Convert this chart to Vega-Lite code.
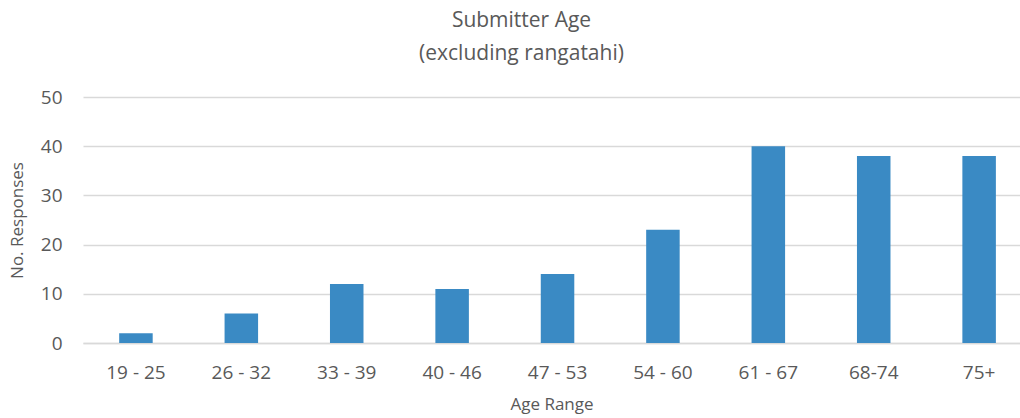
{
  "$schema": "https://vega.github.io/schema/vega-lite/v6.json",
  "autosize": {"type": "none"},
  "padding": {"left": 83, "top": 97, "right": 0, "bottom": 75},
  "width": 937,
  "height": 246,
  "background": "white",
  "config": {
    "font": "Open Sans",
    "view": {"stroke": null}
  },
  "title": {
    "text": "Submitter Age",
    "subtitle": "(excluding rangatahi)",
    "anchor": "middle",
    "frame": "group",
    "dx": -30,
    "offset": 24,
    "font": "Open Sans",
    "fontSize": 21,
    "fontWeight": "normal",
    "color": "#595959",
    "subtitleFont": "Open Sans",
    "subtitleFontSize": 21,
    "subtitleColor": "#595959",
    "subtitlePadding": 12
  },
  "data": {
    "values": [
      {"range": "19 - 25", "count": 2},
      {"range": "26 - 32", "count": 6},
      {"range": "33 - 39", "count": 12},
      {"range": "40 - 46", "count": 11},
      {"range": "47 - 53", "count": 14},
      {"range": "54 - 60", "count": 23},
      {"range": "61 - 67", "count": 40},
      {"range": "68-74", "count": 38},
      {"range": "75+", "count": 38}
    ]
  },
  "mark": {"type": "bar", "color": "#3a8ac4"},
  "encoding": {
    "x": {
      "field": "range",
      "type": "nominal",
      "sort": null,
      "scale": {"paddingInner": 0.682, "paddingOuter": 0.286, "align": 0.6},
      "axis": {
        "title": "Age Range",
        "titleFont": "Open Sans",
        "titleFontSize": 17,
        "titleFontWeight": "normal",
        "titleColor": "#595959",
        "titlePadding": 14,
        "labelAngle": 0,
        "labelFontSize": 19,
        "labelColor": "#595959",
        "labelPadding": 20,
        "ticks": false,
        "domainColor": "#d9d9d9",
        "domainWidth": 1.5
      }
    },
    "y": {
      "field": "count",
      "type": "quantitative",
      "scale": {"domain": [0, 50]},
      "axis": {
        "title": "No. Responses",
        "titleFont": "Open Sans",
        "titleFontSize": 17,
        "titleFontWeight": "normal",
        "titleColor": "#595959",
        "titlePadding": 14,
        "values": [0, 10, 20, 30, 40, 50],
        "labelFontSize": 19,
        "labelColor": "#595959",
        "labelPadding": 21,
        "ticks": false,
        "domain": false,
        "gridColor": "#d9d9d9",
        "gridWidth": 1.5
      }
    }
  }
}
